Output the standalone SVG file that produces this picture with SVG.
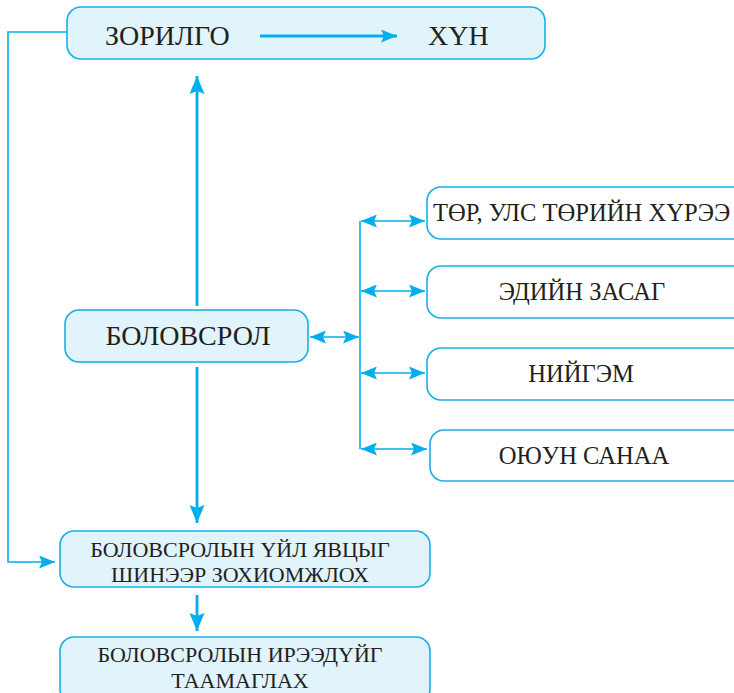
<svg xmlns="http://www.w3.org/2000/svg" width="734" height="693" viewBox="0 0 734 693">
<style>
.box{fill:#e1f3fb;stroke:#1aaee8;stroke-width:1.6}
.wbox{fill:#ffffff;stroke:#1aaee8;stroke-width:1.6}
text{font-family:'Liberation Serif','Times New Roman',serif;fill:#231f20}
.big{font-size:28px}
.mid{font-size:24.6px}
.sm{font-size:22px}
.thick{stroke:#00aeef;stroke-width:2.8;fill:none}
.thin{stroke:#00aeef;stroke-width:1.6;fill:none}
</style>
<defs>
<marker id="hb" markerUnits="userSpaceOnUse" markerWidth="18" markerHeight="15" refX="18" refY="7.5" orient="auto-start-reverse" viewBox="0 0 18 15">
<path d="M0,0 L18,7.5 L0,15 L3,7.5 z" fill="#00aeef"/>
</marker>
<marker id="hs" markerUnits="userSpaceOnUse" markerWidth="16" markerHeight="13" refX="16" refY="6.5" orient="auto-start-reverse" viewBox="0 0 16 13">
<path d="M0,0 L16,6.5 L0,13 L3,6.5 z" fill="#00aeef"/>
</marker>
</defs>

<g id="zorilgo">
<rect class="box" x="67" y="7" width="478" height="52" rx="14"/>
<text class="big" x="105" y="45">ЗОРИЛГО</text>
<text class="big" x="428" y="45">ХҮН</text>
</g>

<g id="bolovsrol">
<rect class="box" x="65" y="310" width="243" height="52" rx="14"/>
<text class="big" x="188" y="345" text-anchor="middle">БОЛОВСРОЛ</text>
</g>

<g id="tor">
<rect class="wbox" x="427" y="187" width="320" height="52" rx="14"/>
<text class="mid" x="433" y="221">ТӨР, УЛС ТӨРИЙН ХҮРЭЭ</text>
</g>

<g id="ediin">
<rect class="wbox" x="427" y="266" width="320" height="52" rx="14"/>
<text class="mid" x="582" y="300" text-anchor="middle">ЭДИЙН ЗАСАГ</text>
</g>

<g id="niigem">
<rect class="wbox" x="427" y="348" width="320" height="52" rx="14"/>
<text class="mid" x="581" y="382" text-anchor="middle">НИЙГЭМ</text>
</g>

<g id="oyun">
<rect class="wbox" x="430" y="430" width="320" height="51" rx="14"/>
<text class="mid" x="584" y="464" text-anchor="middle">ОЮУН САНАА</text>
</g>

<g id="uil">
<rect class="box" x="60" y="531" width="370" height="56" rx="14"/>
<text class="sm" x="240" y="557" text-anchor="middle">БОЛОВСРОЛЫН ҮЙЛ ЯВЦЫГ</text>
<text class="sm" x="240" y="582" text-anchor="middle">ШИНЭЭР ЗОХИОМЖЛОХ</text>
</g>

<g id="iree">
<rect class="box" x="60" y="637" width="370" height="66" rx="14"/>
<text class="sm" x="240" y="662" text-anchor="middle">БОЛОВСРОЛЫН ИРЭЭДҮЙГ</text>
<text class="sm" x="240" y="688" text-anchor="middle">ТААМАГЛАХ</text>
</g>

<g id="connectors">
<line class="thick" x1="260" y1="36" x2="397" y2="36" marker-end="url(#hs)"/>
<line class="thick" x1="197" y1="306" x2="197" y2="76" marker-end="url(#hb)"/>
<line class="thick" x1="197" y1="367" x2="197" y2="523" marker-end="url(#hb)"/>
<line class="thick" x1="197" y1="595" x2="197" y2="631" marker-end="url(#hb)"/>
<polyline class="thin" points="67,32 8,32 8,562 55,562" marker-end="url(#hs)"/>
<line class="thin" x1="310" y1="337" x2="359" y2="337" marker-start="url(#hs)" marker-end="url(#hs)"/>
<line class="thin" x1="360" y1="221" x2="360" y2="449"/>
<line class="thin" x1="361" y1="221" x2="425" y2="221" marker-start="url(#hs)" marker-end="url(#hs)"/>
<line class="thin" x1="361" y1="291" x2="425" y2="291" marker-start="url(#hs)" marker-end="url(#hs)"/>
<line class="thin" x1="361" y1="373" x2="425" y2="373" marker-start="url(#hs)" marker-end="url(#hs)"/>
<line class="thin" x1="361" y1="449" x2="427" y2="449" marker-start="url(#hs)" marker-end="url(#hs)"/>
</g>
</svg>
